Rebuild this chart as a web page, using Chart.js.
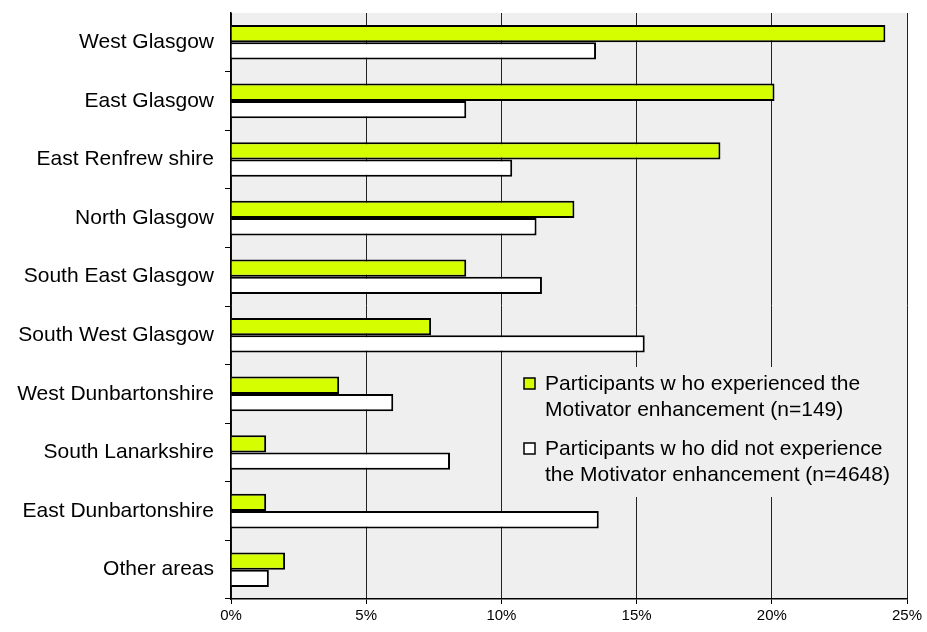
<!DOCTYPE html>
<html>
<head>
<meta charset="utf-8">
<title>Motivator enhancement by area</title>
<script src="https://cdn.jsdelivr.net/npm/chart.js@4.4.1/dist/chart.umd.min.js"></script>
<style>
  body { margin: 0; background: #fff; }
  #wrap { width: 927px; height: 632px; }
</style>
</head>
<body>
<div id="wrap"><canvas id="myChart" width="927" height="632"></canvas></div>
<script>
// areas, top to bottom
const areas = [
  'West Glasgow', 'East Glasgow', 'East Renfrew shire', 'North Glasgow',
  'South East Glasgow', 'South West Glasgow', 'West Dunbartonshire',
  'South Lanarkshire', 'East Dunbartonshire', 'Other areas'
];

// percent of participants in each area
const withMotivator = [24.2, 20.1, 18.1, 12.7, 8.7, 7.4, 4.0, 1.3, 1.3, 2.0];
const withoutMotivator = [13.5, 8.7, 10.4, 11.3, 11.5, 15.3, 6.0, 8.1, 13.6, 1.4];

const seriesNames = [
  ['Participants w ho experienced the', 'Motivator enhancement (n=149)'],
  ['Participants w ho did not experience', 'the Motivator enhancement (n=4648)']
];

const xTicks = [0, 5, 10, 15, 20, 25];

const GREEN = '#d5ff00';
const FONT = '"Liberation Sans", Arial, sans-serif';

// grey plot background behind the bars
const plotBackground = {
  id: 'plotBackground',
  beforeDraw(chart) {
    const { ctx, chartArea: a } = chart;
    ctx.save();
    ctx.fillStyle = '#efefef';
    ctx.fillRect(a.left, a.top, a.right - a.left, a.bottom - a.top);
    ctx.restore();
  }
};

// legend box sitting inside the plot, lower right
const boxLegend = {
  id: 'boxLegend',
  afterDraw(chart) {
    const ctx = chart.ctx;
    const x = chart.scales.x;
    const left = x.getPixelForValue(10) + 6;
    const right = x.getPixelForValue(25) - 3;
    const top = 367;
    const bottom = 497;
    const colors = [GREEN, '#ffffff'];
    const rows = [384, 449];

    ctx.save();
    ctx.fillStyle = '#efefef';
    ctx.fillRect(left, top, right - left, bottom - top);
    ctx.font = '21px ' + FONT;
    ctx.textBaseline = 'middle';
    ctx.fillStyle = '#000';
    seriesNames.forEach((lines, i) => {
      const y = rows[i];
      ctx.fillStyle = colors[i];
      ctx.fillRect(524, y - 6, 11, 11);
      ctx.strokeStyle = '#000';
      ctx.lineWidth = 1.5;
      ctx.strokeRect(524, y - 6, 11, 11);
      ctx.fillStyle = '#000';
      lines.forEach((line, j) => {
        ctx.fillText(line, 545, y + j * 26);
      });
    });
    ctx.restore();
  }
};

function initChart(target) {
  const data = {
    labels: areas,
    datasets: [
      {
        label: seriesNames[0].join(' '),
        data: withMotivator,
        backgroundColor: GREEN,
        borderColor: '#000',
        borderWidth: 2,
        categoryPercentage: 0.59,
        barPercentage: 1.0
      },
      {
        label: seriesNames[1].join(' '),
        data: withoutMotivator,
        backgroundColor: '#ffffff',
        borderColor: '#000',
        borderWidth: 2,
        categoryPercentage: 0.59,
        barPercentage: 1.0
      }
    ]
  };

  const config = {
    type: 'bar',
    data: data,
    options: {
      indexAxis: 'y',
      responsive: false,
      animation: false,
      devicePixelRatio: 1,
      layout: { padding: { top: 13, right: 20, left: 0, bottom: 0 } },
      plugins: {
        legend: { display: false },
        tooltip: { enabled: false }
      },
      scales: {
        x: {
          min: 0,
          max: 25,
          afterBuildTicks: (scale) => {
            scale.ticks = xTicks.map((v) => ({ value: v }));
          },
          afterFit: (scale) => { scale.height = 33; },
          border: { display: true, color: '#000', width: 1.5 },
          grid: { color: '#222', lineWidth: 1, drawTicks: true, tickLength: 5, tickColor: '#000' },
          ticks: {
            color: '#000',
            padding: 3,
            font: { family: FONT, size: 15 },
            maxRotation: 0,
            callback: (v) => v + '%'
          }
        },
        y: {
          afterFit: (scale) => {
            scale.width = 231;
            // labels sit mid-band, so no extra room above or below
            scale.paddingTop = 0;
            scale.paddingBottom = 0;
          },
          border: { display: true, color: '#000', width: 1.5 },
          grid: {
            drawOnChartArea: false,
            drawTicks: true,
            tickLength: 6,
            offset: true,
            // no tick mark at the very top of the axis
            tickColor: (c) => (c.index === 0 ? 'rgba(0,0,0,0)' : '#000')
          },
          ticks: {
            color: '#000',
            padding: 11,
            font: { family: FONT, size: 21 }
          }
        }
      }
    },
    plugins: [plotBackground, boxLegend]
  };

  return new Chart(target, config);
}

document.addEventListener('DOMContentLoaded', () => {
  const chartTarget = document.querySelector('#myChart');
  initChart(chartTarget);
});
</script>
</body>
</html>
